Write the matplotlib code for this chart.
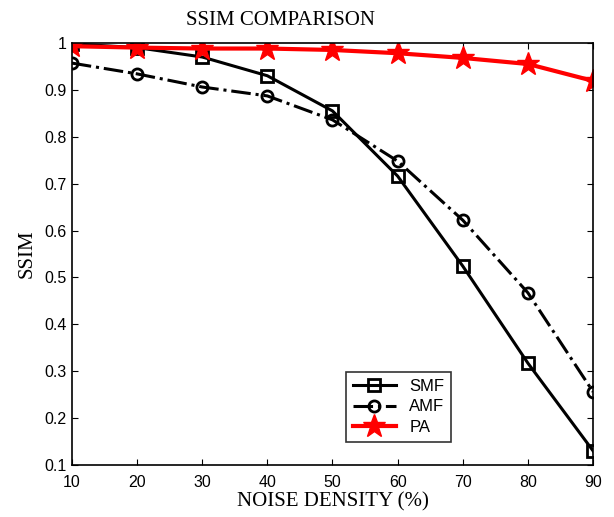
import matplotlib
matplotlib.use("Agg")
import matplotlib.pyplot as plt

noise = [10, 20, 30, 40, 50, 60, 70, 80, 90]
smf = [0.998, 0.990, 0.970, 0.930, 0.855, 0.716, 0.524, 0.317, 0.130]
amf = [0.957, 0.934, 0.906, 0.887, 0.836, 0.748, 0.622, 0.467, 0.256]
pa = [0.993, 0.990, 0.988, 0.988, 0.985, 0.978, 0.968, 0.955, 0.919]

fig = plt.figure(figsize=(6.14, 5.17), dpi=100)
ax = fig.add_axes([0.117, 0.1006, 0.849, 0.8164])

ax.plot(noise, smf, color='black', lw=2.2, marker='s', ms=8, mfc='none', mew=2, label='SMF')
ax.plot(noise, amf, color='black', lw=2.2, ls='-.', marker='o', ms=8, mfc='none', mew=2, label='AMF')
ax.plot(noise, pa, color='red', lw=3, marker='*', ms=17, mfc='red', mec='red', label='PA')

ax.set_xlim(10, 90)
ax.set_ylim(0.1, 1.0)
ax.set_xticks(noise)
ax.set_yticks([0.1, 0.2, 0.3, 0.4, 0.5, 0.6, 0.7, 0.8, 0.9, 1.0])
ax.set_yticklabels(['0.1', '0.2', '0.3', '0.4', '0.5', '0.6', '0.7', '0.8', '0.9', '1'])
ax.tick_params(direction='in', top=True, right=True, length=4, labelsize=11.5)
ax.tick_params(axis='x', pad=7)
for lab in ax.get_xticklabels() + ax.get_yticklabels():
    lab.set_fontfamily('Liberation Sans')
for sp in ax.spines.values():
    sp.set_linewidth(1.2)

ax.set_title('SSIM COMPARISON', fontfamily='Liberation Serif', fontsize=15, x=0.40, pad=13)
ax.set_xlabel('NOISE DENSITY (%)', fontfamily='Liberation Serif', fontsize=15, labelpad=2)
ax.set_ylabel('SSIM', fontfamily='Liberation Serif', fontsize=15, labelpad=6)

leg = ax.legend(loc='lower left', bbox_to_anchor=(0.51, 0.035), fancybox=False,
                edgecolor='black', prop={'family': 'Liberation Sans', 'size': 12},
                handlelength=2.6, borderpad=0.4, labelspacing=0.35)
leg.get_frame().set_linewidth(1.2)

fig.savefig('out.png', dpi=100)
